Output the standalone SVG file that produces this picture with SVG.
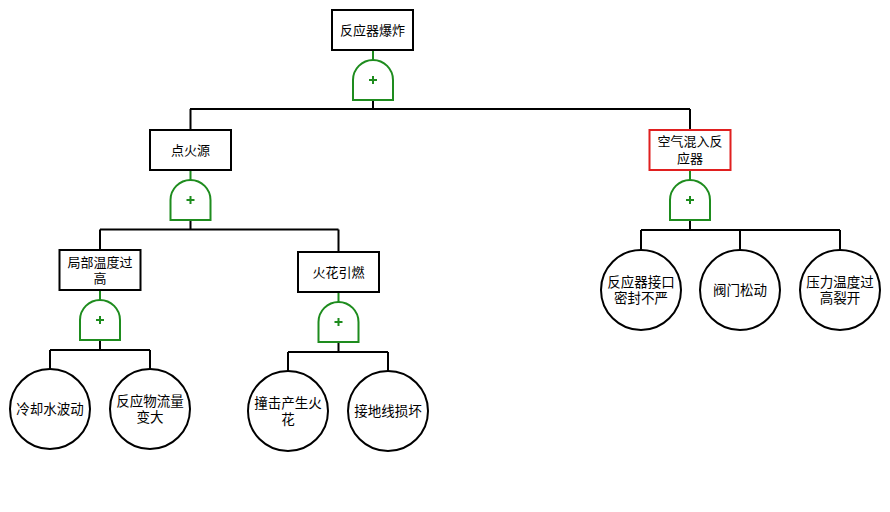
<svg xmlns="http://www.w3.org/2000/svg" xmlns:xlink="http://www.w3.org/1999/xlink" width="890" height="512" viewBox="0 0 890 512">
<style>
.box{fill:#fff;stroke:#000;stroke-width:2}
.red{stroke:#e01f1f}
.evt{fill:#fff;stroke:#000;stroke-width:2}
.gate{fill:#fff;stroke:#1e8c1e;stroke-width:2}
.plus{stroke:#1e8c1e;stroke-width:2;fill:none}
.ln{stroke:#000;stroke-width:2;fill:none}
.gl{stroke:#1e8c1e;stroke-width:2;fill:none}
text{font-family:"Liberation Sans","Noto Sans CJK SC",sans-serif;fill:#000;text-anchor:middle;dominant-baseline:central}
.bt{font-size:13px}
.ct{font-size:13.5px}
</style>
<defs>
<g id="orgate">
<path class="gate" d="M-20,40 V20 A20,20 0 0 1 20,20 V40 Z"/>
<path class="plus" d="M-4,20 H4 M0,16 V24"/>
</g>
</defs>
<rect width="890" height="512" fill="#fff"/>
<g id="connectors">
<path class="gl" d="M373,50 V60 M190.5,170 V180 M690,170 V180 M100,290 V300 M338.5,292 V302"/>
<path class="ln" d="M373,100 V109 M190,109 H690 M190.5,109 V130 M690,109 V130"/>
<path class="ln" d="M190.5,220 V229.5 M100,229.5 H338.5 M100,229.5 V250 M338.5,229.5 V252"/>
<path class="ln" d="M690,220 V230 M641,230 H840 M641,230 V250 M740,230 V250 M840,230 V250"/>
<path class="ln" d="M100,340 V350 M50,350 H150 M50,350 V369 M150,350 V369"/>
<path class="ln" d="M338.5,342 V352 M288,352 H388 M288,352 V371 M388,352 V371"/>
</g>
<g id="n-top"><rect class="box" x="332" y="10" width="81" height="40"/><text class="bt" x="372.5" y="30">反应器爆炸</text></g>
<g id="g-top"><use xlink:href="#orgate" x="373" y="60"/></g>
<g id="n-ignition"><rect class="box" x="150" y="130" width="81" height="40"/><text class="bt" x="190.5" y="150">点火源</text></g>
<g id="g-ignition"><use xlink:href="#orgate" x="190.5" y="180"/></g>
<g id="n-air"><rect class="box red" x="649.5" y="130" width="81" height="40"/><text class="bt"><tspan x="690" y="141">空气混入反</tspan><tspan x="690" y="157.5">应器</tspan></text></g>
<g id="g-air"><use xlink:href="#orgate" x="690" y="180"/></g>
<g id="n-temp"><rect class="box" x="59.5" y="250" width="81" height="40"/><text class="bt"><tspan x="100" y="261.5">局部温度过</tspan><tspan x="100" y="278">高</tspan></text></g>
<g id="g-temp"><use xlink:href="#orgate" x="100" y="300"/></g>
<g id="n-spark"><rect class="box" x="298" y="252" width="81" height="40"/><text class="bt" x="338.5" y="272">火花引燃</text></g>
<g id="g-spark"><use xlink:href="#orgate" x="338.5" y="302"/></g>
<g id="e-cool"><circle class="evt" cx="50" cy="409" r="40"/><text class="ct" x="50" y="409">冷却水波动</text></g>
<g id="e-flow"><circle class="evt" cx="150" cy="409" r="40"/><text class="ct"><tspan x="150" y="400.5">反应物流量</tspan><tspan x="150" y="417">变大</tspan></text></g>
<g id="e-impact"><circle class="evt" cx="288" cy="411" r="40"/><text class="ct"><tspan x="288" y="402.5">撞击产生火</tspan><tspan x="288" y="419">花</tspan></text></g>
<g id="e-ground"><circle class="evt" cx="388" cy="411" r="40"/><text class="ct" x="388" y="411">接地线损坏</text></g>
<g id="e-seal"><circle class="evt" cx="641" cy="290" r="40"/><text class="ct"><tspan x="641" y="281.5">反应器接口</tspan><tspan x="641" y="298">密封不严</tspan></text></g>
<g id="e-valve"><circle class="evt" cx="740" cy="290" r="40"/><text class="ct" x="740" y="290">阀门松动</text></g>
<g id="e-crack"><circle class="evt" cx="840" cy="290" r="40"/><text class="ct"><tspan x="840" y="281.5">压力温度过</tspan><tspan x="840" y="298">高裂开</tspan></text></g>
</svg>
